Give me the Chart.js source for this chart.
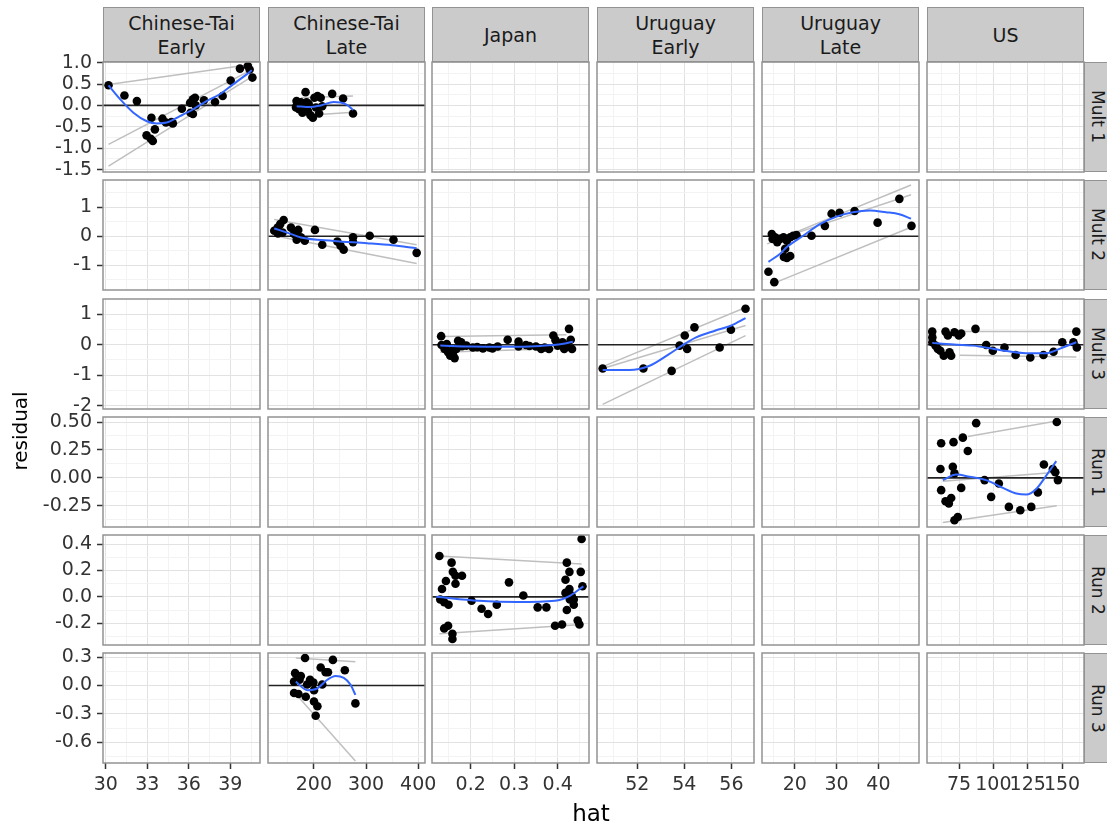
<!DOCTYPE html>
<html>
<head>
<meta charset="utf-8">
<script src="https://cdn.jsdelivr.net/npm/chart.js@4.4.0/dist/chart.umd.min.js"></script>
<style>
  body { margin: 0; width: 1107px; height: 827px; overflow: hidden; background: #fff; position: relative;
         font-family: 'DejaVu Sans', 'Liberation Sans', Arial, sans-serif; }
  canvas { position: absolute; }
  .strip { position: absolute; box-sizing: border-box; background: #cbcbcb; border: 1.5px solid #939393;
           display: flex; align-items: center; justify-content: center; text-align: center;
           color: #1a1a1a; font-size: 19px; line-height: 24px; white-space: pre-line; }
  .strip.side { font-size: 17px; }
  .strip.side span { writing-mode: vertical-rl; }
  .title { position: absolute; color: #000; font-size: 23px; line-height: 26px; text-align: center; }
</style>
</head>
<body>
<script>
// facet labels
const columnNames = ['Chinese-Tai\nEarly', 'Chinese-Tai\nLate', 'Japan', 'Uruguay\nEarly', 'Uruguay\nLate', 'US'];
const rowNames = ['Mult 1', 'Mult 2', 'Mult 3', 'Run 1', 'Run 2', 'Run 3'];

// x scale per column (free scales) and y scale per row
const colLimits = [[29.8, 41.15], [112, 413], [0.111, 0.472], [50.29, 56.96], [12.16, 49.7], [51.7, 166]];
const colTicks = [[30, 33, 36, 39], [200, 300, 400], [0.2, 0.3, 0.4], [52, 54, 56], [20, 30, 40], [75, 100, 125, 150]];
const colDigits = [0, 0, 1, 0, 0, 0];
const rowLimits = [[-1.556, 1.014], [-1.85, 1.94], [-2.11, 1.5], [-0.44, 0.545], [-0.366, 0.47], [-0.82, 0.343]];
const rowTicks = [[-1.5, -1, -0.5, 0, 0.5, 1], [-1, 0, 1], [-2, -1, 0, 1], [-0.25, 0, 0.25, 0.5], [-0.2, 0, 0.2, 0.4], [-0.6, -0.3, 0, 0.3]];
const rowDigits = [1, 0, 0, 2, 1, 1];

// Mult 1 / Chinese-Tai Early
const mult1EarlyPoints = [[30.2,0.47],[31.35,0.23],[32.25,0.10],[33.3,-0.29],[32.95,-0.70],[33.25,-0.78],[33.4,-0.83],
  [33.55,-0.56],[34.1,-0.31],[34.35,-0.40],[34.75,-0.39],[34.85,-0.42],[35.5,-0.08],[36.1,0.06],[36.3,0.14],[36.45,0.18],
  [36.13,-0.17],[36.3,-0.2],[36.5,0.0],[37.1,0.12],[37.9,0.08],[38.45,0.22],[39.03,0.58],[39.7,0.86],[40.27,0.92],
  [40.4,0.84],[40.6,0.65]];
const mult1EarlyFit = [[30.2,0.47],[31.05,0.14],[32.0,-0.17],[32.97,-0.37],[33.68,-0.42],[34.4,-0.40],[35.36,-0.25],
  [36.32,-0.09],[37.28,0.10],[38.24,0.26],[39.2,0.49],[40.16,0.72],[40.56,0.82]];
const mult1EarlyRefs = [[[30.2,0.49],[40.6,0.96]], [[30.2,-0.91],[40.6,0.84]], [[30.2,-1.42],[40.6,0.68]]];

// Mult 1 / Chinese-Tai Late
const mult1LatePoints = [[184,0.31],[166.7,0.10],[167,-0.01],[171.6,-0.09],[175,0.07],[178,-0.17],[183.5,-0.03],
  [188.6,-0.13],[193.5,-0.23],[198,-0.29],[201,0.18],[207,0.22],[210,-0.19],[213,0.18],[216,-0.02],[235,0.27],
  [256,0.16],[275,-0.19],[165.7,-0.05],[186,0.07],[204,-0.05],[190,0.03]];
const mult1LateFit = [[167,-0.02],[193,-0.04],[213,0.0],[238,0.08],[251,0.07],[264,0.01],[275,-0.11]];
const mult1LateRefs = [[[175,0.18],[275,0.22]], [[175,-0.24],[275,-0.16]]];

// Mult 2 / Chinese-Tai Late
const mult2LatePoints = [[124,0.19],[130.5,0.30],[135.5,0.42],[142,0.56],[140,0.13],[131,0.10],[156,0.30],[162,0.08],
  [170,0.22],[167,-0.12],[175,-0.03],[182.5,-0.15],[202,0.22],[216,-0.29],[245,-0.18],[251,-0.32],[257,-0.46],
  [275,-0.03],[275,-0.2],[307,0.02],[352.6,-0.12],[397,-0.57]];
const mult2LateFit = [[124,0.27],[150,0.12],[175,-0.04],[238,-0.16],[302,-0.24],[350,-0.31],[397,-0.41]];
const mult2LateRefs = [[[124,0.58],[397,-0.29]], [[124,0.02],[397,-0.94]]];

// Mult 2 / Uruguay Late
const mult2UyLatePoints = [[13.7,-1.22],[15.1,-1.58],[14.5,0.08],[15.3,-0.03],[15.8,-0.2],[16.5,-0.09],[17.3,-0.03],
  [17.7,-0.43],[17.4,-0.71],[18.1,-0.75],[18.9,-0.68],[18.1,-0.15],[18.9,-0.03],[19.6,0.02],[20.4,0.04],[24.0,0.02],
  [27.2,0.36],[28.8,0.78],[30.7,0.81],[34.3,0.87],[39.8,0.47],[45.0,1.29],[47.9,0.36],[14.7,-0.09]];
const mult2UyLateFit = [[13.7,-0.88],[16.5,-0.6],[18.1,-0.37],[22,0.02],[26,0.42],[30,0.68],[33.9,0.83],[37.9,0.89],
  [41.8,0.83],[45,0.76],[47.8,0.61]];
const mult2UyLateRefs = [[[13.4,-0.26],[47.8,1.77]], [[14.9,-0.15],[47.8,1.43]], [[14.9,-1.62],[47.8,0.31]]];

// Mult 3 / Japan
const mult3JapanPoints = [[0.132,0.28],[0.133,-0.01],[0.140,-0.14],[0.145,0.02],[0.148,-0.25],[0.153,-0.36],
  [0.157,-0.2],[0.159,-0.31],[0.163,-0.44],[0.167,-0.14],[0.171,0.13],[0.178,0.08],[0.18,-0.05],[0.19,-0.03],
  [0.205,-0.09],[0.215,-0.08],[0.228,-0.12],[0.243,-0.09],[0.25,-0.12],[0.262,-0.06],[0.285,0.16],[0.31,0.1],
  [0.31,-0.06],[0.327,-0.01],[0.335,-0.04],[0.35,-0.06],[0.362,-0.14],[0.37,-0.09],[0.38,-0.14],[0.39,0.3],
  [0.395,0.15],[0.40,-0.03],[0.411,0.08],[0.415,-0.14],[0.426,0.52],[0.43,0.16],[0.433,-0.14],[0.42,0.0]];
const mult3JapanFit = [[0.13,-0.03],[0.2,-0.06],[0.28,-0.07],[0.36,-0.04],[0.41,0.02],[0.435,0.10]];
const mult3JapanRefs = [[[0.13,0.27],[0.42,0.33]], [[0.13,-0.25],[0.43,-0.12]]];

// Mult 3 / Uruguay Early
const mult3UyEarlyPoints = [[50.53,-0.78],[52.26,-0.78],[53.46,-0.86],[53.8,-0.03],[54.02,0.30],[54.43,0.57],
  [54.12,-0.14],[55.5,-0.09],[55.98,0.49],[56.6,1.18]];
const mult3UyEarlyFit = [[50.53,-0.83],[51.66,-0.83],[52.5,-0.7],[53.35,-0.31],[53.9,-0.03],[54.5,0.24],[55.3,0.46],
  [56.0,0.63],[56.6,0.87]];
const mult3UyEarlyRefs = [[[50.53,-0.72],[56.6,1.22]], [[50.53,-0.78],[56.6,0.63]], [[50.53,-1.96],[56.6,0.30]]];

// Mult 3 / US
const mult3UsPoints = [[55.5,0.43],[55.6,0.24],[55.6,0.08],[57.9,-0.03],[59.6,-0.14],[61.4,-0.2],[63.9,-0.36],
  [65.2,0.43],[66.9,0.30],[68.1,-0.25],[69.3,-0.36],[71.7,0.41],[74.9,0.30],[76.6,0.37],[87.0,0.52],[94.8,-0.01],
  [99.6,-0.2],[108.1,-0.09],[116.2,-0.34],[126.9,-0.42],[136.5,-0.34],[143.8,-0.23],[150.2,0.08],[160.4,0.43],
  [160.8,-0.09],[158.3,0.08]];
const mult3UsFit = [[55.5,0.06],[65.7,0.02],[85.1,-0.03],[104.5,-0.17],[123.9,-0.28],[138.5,-0.28],[150.6,-0.09],[160.4,0.08]];
const mult3UsRefs = [[[75.4,0.43],[160.4,0.43]], [[75.4,-0.35],[160.4,-0.40]]];

// Run 1 / US
const run1UsPoints = [[87.5,0.49],[146.2,0.50],[77.8,0.36],[71.0,0.32],[62.0,0.31],[81.4,0.24],[61.5,0.08],[70.5,0.10],
  [71.7,0.04],[62.0,-0.11],[76.6,-0.09],[69.3,-0.18],[65.2,-0.21],[67.6,-0.23],[74.1,-0.35],[71.7,-0.38],[93.6,-0.02],
  [98.4,-0.17],[104,-0.05],[111.3,-0.26],[119.6,-0.29],[127.6,-0.26],[132.4,-0.13],[136.8,0.12],[145.1,0.05],
  [147,-0.02],[143.3,0.08]];
const run1UsFit = [[63.2,-0.02],[73,0.03],[82.7,0.01],[94.8,-0.02],[107,-0.09],[116.7,-0.14],[124,-0.15],[131.2,-0.10],
  [138.5,0.02],[145.8,0.15]];
const run1UsRefs = [[[81.4,0.37],[146.2,0.51]], [[63.2,-0.40],[146.2,-0.25]], [[63.2,-0.03],[146.2,0.05]]];

// Run 2 / Japan
const run2JapanPoints = [[0.128,0.31],[0.156,0.26],[0.159,0.19],[0.165,0.16],[0.18,0.16],[0.143,0.12],[0.165,0.10],
  [0.134,0.06],[0.13,-0.02],[0.139,-0.04],[0.149,-0.06],[0.139,-0.24],[0.148,-0.22],[0.158,-0.28],[0.158,-0.32],
  [0.202,-0.03],[0.225,-0.09],[0.24,-0.13],[0.26,-0.06],[0.288,0.11],[0.321,0.01],[0.354,-0.08],[0.374,-0.08],
  [0.394,-0.22],[0.41,-0.21],[0.421,0.26],[0.427,0.19],[0.418,0.13],[0.418,0.03],[0.421,-0.10],[0.428,-0.02],
  [0.437,-0.02],[0.437,-0.06],[0.455,0.44],[0.453,0.19],[0.457,0.08],[0.446,-0.18],[0.45,-0.21],[0.432,0.01],[0.427,0.06]];
const run2JapanFit = [[0.121,0.0],[0.218,-0.03],[0.306,-0.04],[0.394,-0.03],[0.429,0.01],[0.459,0.08]];
const run2JapanRefs = [[[0.128,0.31],[0.455,0.25]], [[0.128,-0.28],[0.455,-0.21]]];

// Run 3 / Chinese-Tai Late
const run3LatePoints = [[183,0.29],[236.4,0.27],[164,0.13],[168.6,0.10],[174.9,0.10],[162,0.04],[172.5,0.06],
  [162,-0.08],[170.4,-0.09],[184.4,-0.12],[192.6,0.06],[199,0.03],[200.2,-0.05],[213,0.19],[222.5,0.14],[227,0.14],
  [216,0.01],[200.2,-0.17],[206.7,-0.22],[203.4,-0.32],[259.3,0.16],[279.6,-0.19],[187,0.01]];
const run3LateFit = [[165.3,0.04],[187.6,-0.05],[206.7,-0.03],[225.7,0.06],[241.5,0.10],[257.3,0.08],[270,0.01],[279.6,-0.10]];
const run3LateRefs = [[[165.3,0.29],[279.6,0.25]], [[165.3,-0.09],[279.6,-0.80]]];

const filled = [
  {row: 0, col: 0, points: mult1EarlyPoints, fit: mult1EarlyFit, refs: mult1EarlyRefs},
  {row: 0, col: 1, points: mult1LatePoints, fit: mult1LateFit, refs: mult1LateRefs},
  {row: 1, col: 1, points: mult2LatePoints, fit: mult2LateFit, refs: mult2LateRefs},
  {row: 1, col: 4, points: mult2UyLatePoints, fit: mult2UyLateFit, refs: mult2UyLateRefs},
  {row: 2, col: 2, points: mult3JapanPoints, fit: mult3JapanFit, refs: mult3JapanRefs},
  {row: 2, col: 3, points: mult3UyEarlyPoints, fit: mult3UyEarlyFit, refs: mult3UyEarlyRefs},
  {row: 2, col: 5, points: mult3UsPoints, fit: mult3UsFit, refs: mult3UsRefs},
  {row: 3, col: 5, points: run1UsPoints, fit: run1UsFit, refs: run1UsRefs},
  {row: 4, col: 2, points: run2JapanPoints, fit: run2JapanFit, refs: run2JapanRefs},
  {row: 5, col: 1, points: run3LatePoints, fit: run3LateFit, refs: run3LateRefs}
];

// panel grid geometry (px)
const colLeft = [103, 268, 432, 597, 762, 927];
const rowTop = [62, 180, 299, 417, 535, 653];
const PW = 157, PH = 110;
const MARGIN = 20, X_AXIS_H = 50;

Chart.defaults.font.family = "'DejaVu Sans', 'Liberation Sans', Arial, sans-serif";
Chart.defaults.animation = false;

// outline each panel like a facet border
const panelFrame = {
  id: 'panelFrame',
  afterDraw(chart) {
    const {ctx, chartArea: a} = chart;
    ctx.save();
    ctx.strokeStyle = '#939393';
    ctx.lineWidth = 1.5;
    ctx.strokeRect(a.left, a.top, a.right - a.left, a.bottom - a.top);
    ctx.restore();
  }
};

// major breaks plus half-step minor breaks inside the limits
function withMinors(major, lim) {
  const step = major[1] - major[0];
  const out = major.map(v => ({value: v}));
  for (let i = -1; i < major.length; i++) {
    const m = major[0] + step * (i + 0.5);
    if (m > lim[0] && m < lim[1]) out.push({value: m, minor: true});
  }
  return out.sort((a, b) => a.value - b.value);
}

// size = space the axis box takes (0 for panels without tick labels)
function scaleOptions(major, lim, digits, size, horizontal) {
  const shown = size > 0;
  return {
    type: 'linear',
    min: lim[0],
    max: lim[1],
    afterBuildTicks: s => { s.ticks = withMinors(major, lim); },
    afterFit: s => {
      if (horizontal) s.height = size; else s.width = size;
      s.paddingLeft = s.paddingRight = s.paddingTop = s.paddingBottom = 0;
    },
    border: {display: false},
    grid: {
      color: c => (c.tick && c.tick.minor) ? '#f3f3f3' : '#e2e2e2',
      lineWidth: 1,
      drawTicks: shown,
      tickLength: 6,
      tickWidth: 1.5,
      tickColor: c => (c.tick && c.tick.minor) ? 'rgba(0,0,0,0)' : '#333'
    },
    ticks: {
      display: shown,
      autoSkip: false,
      maxRotation: 0,
      minRotation: 0,
      padding: 5,
      color: '#333',
      font: {size: 19},
      callback: (v, i, arr) => arr[i].minor ? '' : Number(v).toFixed(digits)
    }
  };
}

const xy = pairs => pairs.map(([x, y]) => ({x, y}));

function panelDatasets(r, c) {
  const p = filled.find(f => f.row === r && f.col === c);
  if (!p) return [];
  const sets = p.refs.map(seg => ({
    data: xy(seg), showLine: true, pointRadius: 0, borderColor: '#bfbfbf', borderWidth: 1.5, order: 4
  }));
  sets.push({
    data: xy([[colLimits[c][0], 0], [colLimits[c][1], 0]]),
    showLine: true, pointRadius: 0, borderColor: '#222', borderWidth: 1.6, order: 3
  });
  sets.push({
    data: xy(p.points), pointRadius: 4.3, pointBorderWidth: 0, backgroundColor: '#000', borderColor: '#000', order: 2
  });
  sets.push({
    data: xy(p.fit), showLine: true, pointRadius: 0, borderColor: '#3366ff', borderWidth: 2,
    cubicInterpolationMode: 'monotone', order: 1
  });
  return sets;
}

// facet strips
columnNames.forEach((name, c) => {
  const d = document.createElement('div');
  d.className = 'strip';
  Object.assign(d.style, {left: colLeft[c] + 'px', top: '7px', width: PW + 'px', height: '55px'});
  d.textContent = name;
  document.body.appendChild(d);
});
rowNames.forEach((name, r) => {
  const d = document.createElement('div');
  d.className = 'strip side';
  Object.assign(d.style, {left: '1084px', top: rowTop[r] + 'px', width: '28px', height: PH + 'px'});
  const s = document.createElement('span');
  s.textContent = name;
  d.appendChild(s);
  document.body.appendChild(d);
});

// one chart per panel
for (let r = 0; r < rowNames.length; r++) {
  for (let c = 0; c < columnNames.length; c++) {
    const leftAxis = c === 0 ? colLeft[0] : 0;
    const bottomAxis = r === rowNames.length - 1 ? X_AXIS_H : 0;
    const padL = leftAxis ? 0 : MARGIN;
    const padB = bottomAxis ? 0 : MARGIN;
    const cv = document.createElement('canvas');
    cv.width = PW + (leftAxis || MARGIN) + MARGIN;
    cv.height = PH + MARGIN + (bottomAxis || MARGIN);
    cv.style.left = (colLeft[c] - (leftAxis || MARGIN)) + 'px';
    cv.style.top = (rowTop[r] - MARGIN) + 'px';
    document.body.appendChild(cv);

    new Chart(cv, {
      type: 'scatter',
      data: {datasets: panelDatasets(r, c)},
      options: {
        responsive: false,
        devicePixelRatio: 1,
        events: [],
        layout: {autoPadding: false, padding: {left: padL, right: MARGIN, top: MARGIN, bottom: padB}},
        plugins: {legend: {display: false}, tooltip: {enabled: false}},
        scales: {
          x: scaleOptions(colTicks[c], colLimits[c], colDigits[c], bottomAxis, true),
          y: scaleOptions(rowTicks[r], rowLimits[r], rowDigits[r], leftAxis, false)
        }
      },
      plugins: [panelFrame]
    });
  }
}

// axis titles
const yTitle = document.createElement('div');
yTitle.className = 'title';
yTitle.textContent = 'residual';
Object.assign(yTitle.style, {left: '-80px', top: '418px', width: '200px', fontSize: '20px', transform: 'rotate(-90deg)'});
document.body.appendChild(yTitle);

const xTitle = document.createElement('div');
xTitle.className = 'title';
xTitle.textContent = 'hat';
Object.assign(xTitle.style, {left: '541px', top: '800px', width: '100px'});
document.body.appendChild(xTitle);
</script>
</body>
</html>
